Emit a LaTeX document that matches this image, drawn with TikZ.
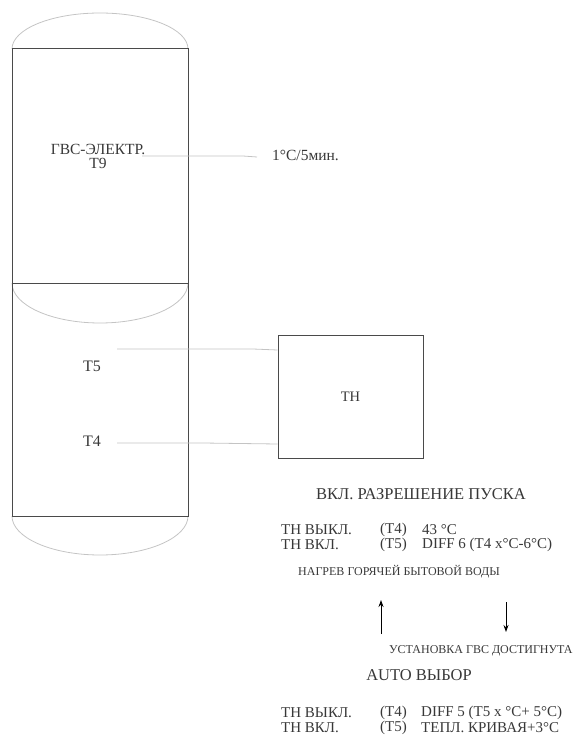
\documentclass[tikz,border=0pt]{standalone}
\usepackage{fontspec}
\setmainfont{Liberation Serif}
\usetikzlibrary{arrows.meta}
\definecolor{txt}{HTML}{383838}
\definecolor{frame}{HTML}{4A4A4A}
\definecolor{thin}{HTML}{C4C4C4}
\begin{document}
\begin{tikzpicture}[x=1pt,y=-1pt,
  every node/.style={text=txt,inner sep=0pt},
  tank/.style={draw=frame,line width=1pt},
  arcline/.style={draw=thin,line width=0.8pt},
  probe/.style={draw=thin,line width=0.8pt},
  lbl/.style={font=\fontsize{15.5}{16}\selectfont},
  big/.style={font=\fontsize{16.5}{18}\selectfont},
  row/.style={font=\fontsize{15}{15}\selectfont,anchor=west},
  small/.style={font=\fontsize{12}{13}\selectfont},
  flow/.style={draw=black,line width=0.9pt,-{Stealth[length=7pt,width=5pt]}}]
\useasboundingbox (0,0) rectangle (576,735);
% tank
\draw[arcline] (12,49) arc[start angle=180,end angle=360,x radius=88,y radius=36];
\draw[arcline] (12,283) arc[start angle=180,end angle=0,x radius=88,y radius=40];
\draw[arcline] (12,516) arc[start angle=180,end angle=0,x radius=88,y radius=39];
\node[tank,minimum width=176pt,minimum height=234pt] (upper) at (100,166) {};
\node[tank,minimum width=176pt,minimum height=233pt] (lower) at (100,399.5) {};
% labels
\node[lbl] (t9a) at (98,149) {ГВС-ЭЛЕКТР.};
\node[lbl] (t9b) at (98,163) {T9};
\node[lbl,anchor=west] (rate) at (272,155) {1°C/5мин.};
\coordinate (p9) at (142,156);
\coordinate (p9b) at (243,156);
\coordinate (p9c) at (257,157);
\draw[probe] (p9) -- (p9b) -- (p9c);
\node[lbl,font=\fontsize{16}{17}\selectfont] (t5) at (92,366) {T5};
\node[lbl,font=\fontsize{16}{17}\selectfont] (t4) at (92,441) {T4};
\node[draw=frame,line width=1pt,minimum width=145pt,minimum height=123pt,
      font=\fontsize{14.5}{15}\selectfont] (th) at (350.5,396.5) {TH};
\coordinate (p5) at (117,349);
\coordinate (p5b) at (253,349);
\coordinate (p4) at (117,443);
\coordinate (p4b) at (203,443);
\draw[probe] (p5) -- (p5b) -- (th.west |- 0,350);
\draw[probe] (p4) -- (p4b) -- (th.west |- 0,444);
% text block
\node[big] (h1) at (421,494) {ВКЛ. РАЗРЕШЕНИЕ ПУСКА};
\node[row] (r1a) at (281,530) {TH ВЫКЛ.};
\node[row] (r1b) at (380,530) {(T4)};
\node[row] (r1c) at (422,530) {43 °C};
\node[row] (r2a) at (281,545) {TH ВКЛ.};
\node[row] (r2b) at (380,545) {(T5)};
\node[row] (r2c) at (422,545) {DIFF 6 (T4 x°C-6°C)};
\node[small] (heat) at (399,572) {НАГРЕВ ГОРЯЧЕЙ БЫТОВОЙ ВОДЫ};
\coordinate (ua) at (381,634);
\coordinate (ub) at (381,600);
\coordinate (da) at (506,602);
\coordinate (db) at (506,632);
\draw[flow] (ua) -- (ub);
\draw[flow] (da) -- (db);
\node[small,anchor=west] (reach) at (389,651) {УСТАНОВКА ГВС ДОСТИГНУТА};
\node[font=\fontsize{16.5}{17}\selectfont] (auto) at (419,675) {AUTO ВЫБОР};
\node[row] (r3a) at (281,713) {TH ВЫКЛ.};
\node[row] (r3b) at (380,713) {(T4)};
\node[row] (r3c) at (421,713) {DIFF 5 (T5 x °C+ 5°C)};
\node[row] (r4a) at (281,728) {TH ВКЛ.};
\node[row] (r4b) at (380,728) {(T5)};
\node[row] (r4c) at (421,728) {ТЕПЛ. КРИВАЯ+3°C};
\end{tikzpicture}
\end{document}
